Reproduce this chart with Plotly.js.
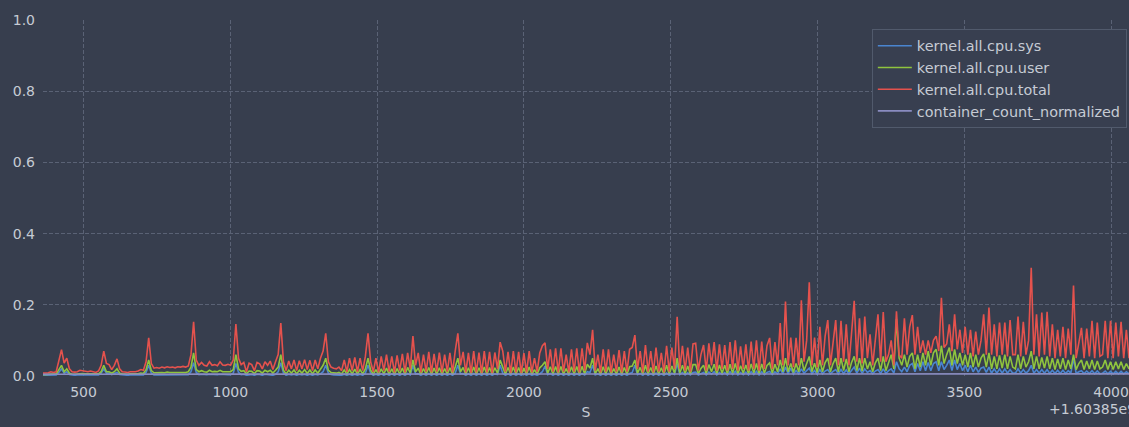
<!DOCTYPE html>
<html>
<head>
<meta charset="utf-8">
<script src="https://cdn.plot.ly/plotly-3.0.1.min.js"></script>
<style>
  html, body { margin: 0; padding: 0; background: #373e4e; }
  #chart { width: 1129px; height: 427px; }
</style>
</head>
<body>
<div id="chart"></div>
<script>
// CPU load samples, seconds after 1.60385e9, one reading every 9 s
const startTime = 362;
const sampleStep = 9;

const cpuSys = [
  0.002,0.002,0.002,0.003,0.002,0.003,0.01,0.02,0.008,0.012,
  0.004,0.002,0.002,0.003,0.003,0.003,0.003,0.002,0.003,0.002,
  0.002,0.003,0.008,0.02,0.008,0.008,0.004,0.006,0.01,0.004,
  0.003,0.002,0.002,0.003,0.002,0.003,0.003,0.004,0.003,0.01,
  0.03,0.008,0.003,0.003,0.003,0.003,0.003,0.004,0.003,0.003,
  0.003,0.004,0.003,0.004,0.003,0.004,0.012,0.037,0.01,0.004,
  0.005,0.004,0.004,0.005,0.004,0.004,0.004,0.005,0.004,0.004,
  0.004,0.004,0.008,0.035,0.01,0.004,0.005,0.002,0.004,0.004,
  0.002,0.005,0.004,0.002,0.005,0.004,0.005,0.002,0.005,0.012,
  0.037,0.008,0.002,0.005,0.003,0.005,0.002,0.005,0.003,0.005,
  0.002,0.005,0.002,0.005,0.003,0.006,0.012,0.03,0.008,0.004,
  0.003,0.003,0.004,0.002,0.005,0.002,0.005,0.002,0.005,0.002,
  0.005,0.002,0.008,0.03,0.008,0.002,0.005,0.002,0.006,0.002,
  0.006,0.002,0.006,0.002,0.006,0.002,0.006,0.002,0.007,0.003,
  0.03,0.006,0.006,0.002,0.006,0.002,0.007,0.002,0.006,0.002,
  0.006,0.002,0.006,0.002,0.006,0.002,0.008,0.03,0.006,0.007,
  0.002,0.006,0.002,0.007,0.002,0.006,0.002,0.007,0.002,0.006,
  0.002,0.006,0.004,0.03,0.008,0.002,0.006,0.002,0.007,0.002,
  0.006,0.002,0.006,0.002,0.007,0.002,0.005,0.002,0.006,0.012,
  0.028,0.004,0.007,0.002,0.007,0.002,0.007,0.002,0.006,0.002,
  0.007,0.002,0.007,0.002,0.007,0.003,0.012,0.01,0.03,0.003,
  0.006,0.002,0.007,0.002,0.007,0.002,0.006,0.002,0.007,0.002,
  0.006,0.002,0.007,0.01,0.03,0.004,0.007,0.002,0.008,0.002,
  0.007,0.002,0.008,0.002,0.006,0.002,0.008,0.002,0.008,0.004,
  0.035,0.004,0.01,0.003,0.009,0.003,0.01,0.011,0.003,0.007,
  0.01,0.003,0.011,0.005,0.012,0.003,0.01,0.004,0.01,0.003,
  0.012,0.004,0.013,0.003,0.01,0.004,0.011,0.003,0.012,0.004,
  0.013,0.003,0.012,0.004,0.01,0.013,0.004,0.012,0.006,0.02,
  0.006,0.025,0.006,0.022,0.005,0.015,0.006,0.02,0.008,0.015,
  0.022,0.006,0.015,0.005,0.018,0.006,0.014,0.018,0.006,0.013,
  0.018,0.006,0.018,0.007,0.017,0.006,0.015,0.025,0.008,0.022,
  0.007,0.02,0.01,0.015,0.006,0.014,0.018,0.007,0.02,0.007,
  0.015,0.02,0.008,0.04,0.02,0.012,0.025,0.012,0.03,0.035,
  0.012,0.035,0.015,0.04,0.015,0.038,0.015,0.035,0.04,0.015,
  0.04,0.018,0.03,0.045,0.015,0.045,0.018,0.035,0.015,0.03,
  0.012,0.03,0.012,0.025,0.01,0.022,0.025,0.01,0.025,0.008,
  0.02,0.008,0.02,0.008,0.02,0.008,0.018,0.008,0.008,0.02,
  0.008,0.018,0.008,0.015,0.03,0.008,0.018,0.008,0.018,0.008,
  0.018,0.007,0.016,0.007,0.016,0.007,0.016,0.007,0.015,0.008,
  0.05,0.007,0.012,0.015,0.007,0.014,0.007,0.015,0.006,0.014,
  0.006,0.008,0.014,0.006,0.013,0.006,0.013,0.006,0.013,0.006,
  0.012,0.006
];

const cpuUser = [
  0.004,0.004,0.005,0.006,0.005,0.006,0.018,0.03,0.012,0.02,
  0.008,0.005,0.005,0.006,0.007,0.007,0.006,0.006,0.006,0.005,
  0.005,0.006,0.012,0.03,0.012,0.012,0.008,0.012,0.02,0.008,
  0.006,0.005,0.005,0.006,0.005,0.006,0.006,0.008,0.007,0.018,
  0.045,0.015,0.009,0.01,0.009,0.01,0.009,0.011,0.01,0.01,
  0.009,0.011,0.01,0.011,0.01,0.012,0.025,0.065,0.018,0.012,
  0.015,0.012,0.011,0.016,0.012,0.013,0.012,0.016,0.012,0.012,
  0.013,0.012,0.018,0.06,0.02,0.013,0.015,0.006,0.014,0.013,
  0.007,0.015,0.014,0.008,0.016,0.012,0.016,0.008,0.016,0.025,
  0.06,0.016,0.006,0.016,0.008,0.017,0.006,0.016,0.008,0.018,
  0.007,0.017,0.006,0.017,0.008,0.02,0.03,0.05,0.016,0.01,
  0.009,0.008,0.01,0.006,0.017,0.005,0.018,0.006,0.019,0.005,
  0.018,0.006,0.02,0.05,0.016,0.005,0.018,0.004,0.02,0.006,
  0.022,0.005,0.02,0.004,0.021,0.006,0.022,0.004,0.024,0.008,
  0.045,0.012,0.022,0.004,0.021,0.005,0.024,0.004,0.022,0.005,
  0.023,0.004,0.021,0.005,0.023,0.004,0.025,0.05,0.012,0.024,
  0.004,0.023,0.004,0.025,0.004,0.023,0.004,0.025,0.004,0.024,
  0.004,0.023,0.008,0.045,0.025,0.005,0.024,0.004,0.025,0.004,
  0.024,0.004,0.022,0.004,0.025,0.004,0.018,0.005,0.023,0.03,
  0.04,0.008,0.026,0.005,0.027,0.004,0.027,0.005,0.021,0.004,
  0.026,0.005,0.027,0.004,0.027,0.006,0.033,0.022,0.05,0.006,
  0.021,0.004,0.026,0.005,0.026,0.004,0.021,0.005,0.025,0.004,
  0.024,0.005,0.026,0.028,0.045,0.008,0.024,0.004,0.03,0.005,
  0.024,0.004,0.028,0.005,0.023,0.004,0.03,0.005,0.028,0.008,
  0.05,0.008,0.03,0.006,0.028,0.005,0.032,0.032,0.006,0.021,
  0.03,0.006,0.032,0.012,0.033,0.006,0.031,0.008,0.03,0.006,
  0.033,0.008,0.035,0.006,0.029,0.008,0.031,0.006,0.034,0.008,
  0.035,0.006,0.034,0.008,0.03,0.037,0.008,0.033,0.012,0.045,
  0.012,0.05,0.012,0.035,0.01,0.035,0.012,0.05,0.015,0.035,
  0.055,0.012,0.036,0.01,0.045,0.012,0.038,0.05,0.012,0.035,
  0.05,0.012,0.05,0.015,0.048,0.012,0.038,0.055,0.015,0.05,
  0.014,0.05,0.02,0.04,0.012,0.037,0.05,0.015,0.055,0.015,
  0.04,0.06,0.02,0.16,0.05,0.03,0.06,0.025,0.055,0.065,
  0.02,0.06,0.025,0.065,0.03,0.07,0.03,0.065,0.075,0.03,
  0.085,0.035,0.06,0.08,0.03,0.075,0.035,0.065,0.03,0.06,
  0.025,0.065,0.025,0.06,0.025,0.05,0.062,0.025,0.065,0.02,
  0.055,0.02,0.058,0.022,0.06,0.02,0.055,0.025,0.02,0.06,
  0.02,0.055,0.025,0.04,0.07,0.02,0.055,0.02,0.052,0.022,
  0.055,0.02,0.05,0.018,0.048,0.02,0.05,0.018,0.045,0.02,
  0.06,0.018,0.035,0.045,0.018,0.042,0.02,0.045,0.018,0.042,
  0.02,0.025,0.045,0.018,0.04,0.018,0.04,0.02,0.04,0.018,
  0.035,0.02
];

const cpuTotal = [
  0.008,0.008,0.009,0.012,0.01,0.012,0.045,0.074,0.036,0.05,
  0.02,0.012,0.011,0.012,0.016,0.015,0.013,0.012,0.014,0.011,
  0.01,0.014,0.03,0.07,0.035,0.032,0.018,0.03,0.048,0.02,
  0.012,0.011,0.01,0.012,0.011,0.012,0.014,0.018,0.016,0.04,
  0.107,0.035,0.022,0.024,0.022,0.025,0.023,0.026,0.024,0.025,
  0.023,0.026,0.025,0.027,0.025,0.028,0.06,0.152,0.045,0.03,
  0.038,0.03,0.028,0.04,0.03,0.032,0.029,0.04,0.031,0.03,
  0.033,0.03,0.045,0.146,0.05,0.032,0.038,0.012,0.036,0.032,
  0.015,0.038,0.034,0.02,0.04,0.03,0.042,0.018,0.04,0.06,
  0.149,0.04,0.015,0.042,0.02,0.045,0.015,0.043,0.02,0.046,
  0.018,0.044,0.015,0.045,0.02,0.05,0.07,0.12,0.04,0.025,
  0.022,0.02,0.025,0.015,0.045,0.012,0.05,0.015,0.052,0.012,
  0.05,0.015,0.055,0.12,0.04,0.012,0.05,0.01,0.055,0.015,
  0.06,0.012,0.055,0.01,0.058,0.015,0.062,0.01,0.065,0.02,
  0.112,0.03,0.065,0.01,0.06,0.012,0.068,0.01,0.062,0.012,
  0.066,0.01,0.06,0.012,0.065,0.01,0.07,0.12,0.03,0.068,
  0.01,0.065,0.008,0.07,0.01,0.066,0.008,0.07,0.01,0.068,
  0.008,0.066,0.02,0.095,0.07,0.012,0.068,0.008,0.07,0.01,
  0.068,0.008,0.064,0.01,0.07,0.01,0.05,0.012,0.065,0.085,
  0.093,0.02,0.075,0.012,0.078,0.01,0.078,0.012,0.06,0.01,
  0.075,0.012,0.078,0.01,0.078,0.015,0.093,0.06,0.13,0.015,
  0.06,0.01,0.075,0.012,0.075,0.01,0.06,0.012,0.073,0.01,
  0.07,0.012,0.075,0.08,0.115,0.02,0.07,0.01,0.087,0.012,
  0.07,0.01,0.08,0.012,0.065,0.01,0.085,0.012,0.08,0.02,
  0.166,0.02,0.085,0.015,0.08,0.012,0.09,0.092,0.015,0.06,
  0.087,0.015,0.092,0.03,0.095,0.015,0.089,0.02,0.087,0.015,
  0.095,0.02,0.1,0.015,0.083,0.02,0.089,0.015,0.097,0.02,
  0.1,0.015,0.097,0.02,0.085,0.107,0.02,0.095,0.03,0.149,
  0.03,0.209,0.03,0.108,0.025,0.107,0.03,0.213,0.04,0.1,
  0.263,0.03,0.108,0.025,0.138,0.03,0.112,0.157,0.03,0.1,
  0.157,0.03,0.155,0.04,0.145,0.03,0.11,0.211,0.04,0.162,
  0.035,0.167,0.05,0.117,0.03,0.108,0.173,0.04,0.18,0.04,
  0.06,0.1,0.03,0.182,0.06,0.05,0.162,0.06,0.138,0.171,
  0.06,0.138,0.065,0.1,0.06,0.1,0.065,0.1,0.112,0.07,
  0.22,0.08,0.09,0.145,0.07,0.173,0.075,0.13,0.065,0.138,
  0.06,0.13,0.055,0.125,0.06,0.1,0.173,0.06,0.192,0.06,
  0.145,0.055,0.15,0.06,0.15,0.055,0.157,0.06,0.06,0.167,
  0.055,0.152,0.06,0.1,0.304,0.06,0.173,0.055,0.178,0.06,
  0.18,0.055,0.145,0.05,0.13,0.055,0.138,0.05,0.133,0.06,
  0.254,0.05,0.09,0.135,0.05,0.133,0.055,0.155,0.05,0.15,
  0.055,0.06,0.155,0.05,0.155,0.05,0.15,0.055,0.152,0.05,
  0.13,0.05
];

// Container count, normalised, read at a few points across the run
const containerTimes = [362, 1500, 3000, 4061];
const containerCount = [0.005, 0.005, 0.006, 0.006];

const sampleTimes = cpuTotal.map((_, i) => startTime + i * sampleStep);

const xTicks = [500, 1000, 1500, 2000, 2500, 3000, 3500, 4000];
const yTicks = [0, 0.2, 0.4, 0.6, 0.8, 1.0];
const yTickText = ['0.0', '0.2', '0.4', '0.6', '0.8', '1.0'];

const bg = '#373e4e';
const textColor = '#c6cbd4';
const gridColor = '#5a6275';
const font = 'DejaVu Sans';

const lineTrace = (name, x, y, color) => ({
  type: 'scatter', mode: 'lines', name, x, y,
  line: { color, width: 1.6 },
  hoverinfo: 'skip'
});

const traces = [
  lineTrace('kernel.all.cpu.sys', sampleTimes, cpuSys, '#4a85d0'),
  lineTrace('kernel.all.cpu.user', sampleTimes, cpuUser, '#8fc43e'),
  lineTrace('kernel.all.cpu.total', sampleTimes, cpuTotal, '#e5524d'),
  lineTrace('container_count_normalized', containerTimes, containerCount, '#8a8cc0')
];

const axisCommon = {
  showgrid: true, gridcolor: gridColor, gridwidth: 1, griddash: '4px,2px',
  zeroline: false, showline: false, ticks: '',
  tickfont: { family: font, size: 14, color: textColor }
};

const layout = {
  width: 1129, height: 427,
  paper_bgcolor: bg, plot_bgcolor: bg,
  margin: { l: 43, r: 0, t: 20, b: 51 },
  font: { family: font, color: textColor, size: 14 },
  showlegend: true,
  xaxis: Object.assign({}, axisCommon, {
    range: [362, 4061], tickvals: xTicks, ticklabelstandoff: 6,
    title: { text: 'S', font: { family: font, size: 14, color: textColor }, standoff: 8 }
  }),
  yaxis: Object.assign({}, axisCommon, {
    range: [0, 1], tickvals: yTicks, ticktext: yTickText, ticklabelstandoff: 7
  }),
  legend: {
    x: 0.998, xanchor: 'right', y: 0.975, yanchor: 'top',
    bgcolor: '#383f50', bordercolor: '#515a6c', borderwidth: 1,
    font: { family: font, size: 14.4, color: textColor },
    itemwidth: 34
  },
  annotations: [{
    text: '+1.60385e9', xref: 'paper', yref: 'paper',
    x: 0.9245, y: -0.0927, xanchor: 'left', yanchor: 'middle',
    showarrow: false, font: { family: font, size: 14, color: textColor }
  }]
};

Plotly.newPlot('chart', traces, layout, { staticPlot: true, displayModeBar: false });
</script>
</body>
</html>
